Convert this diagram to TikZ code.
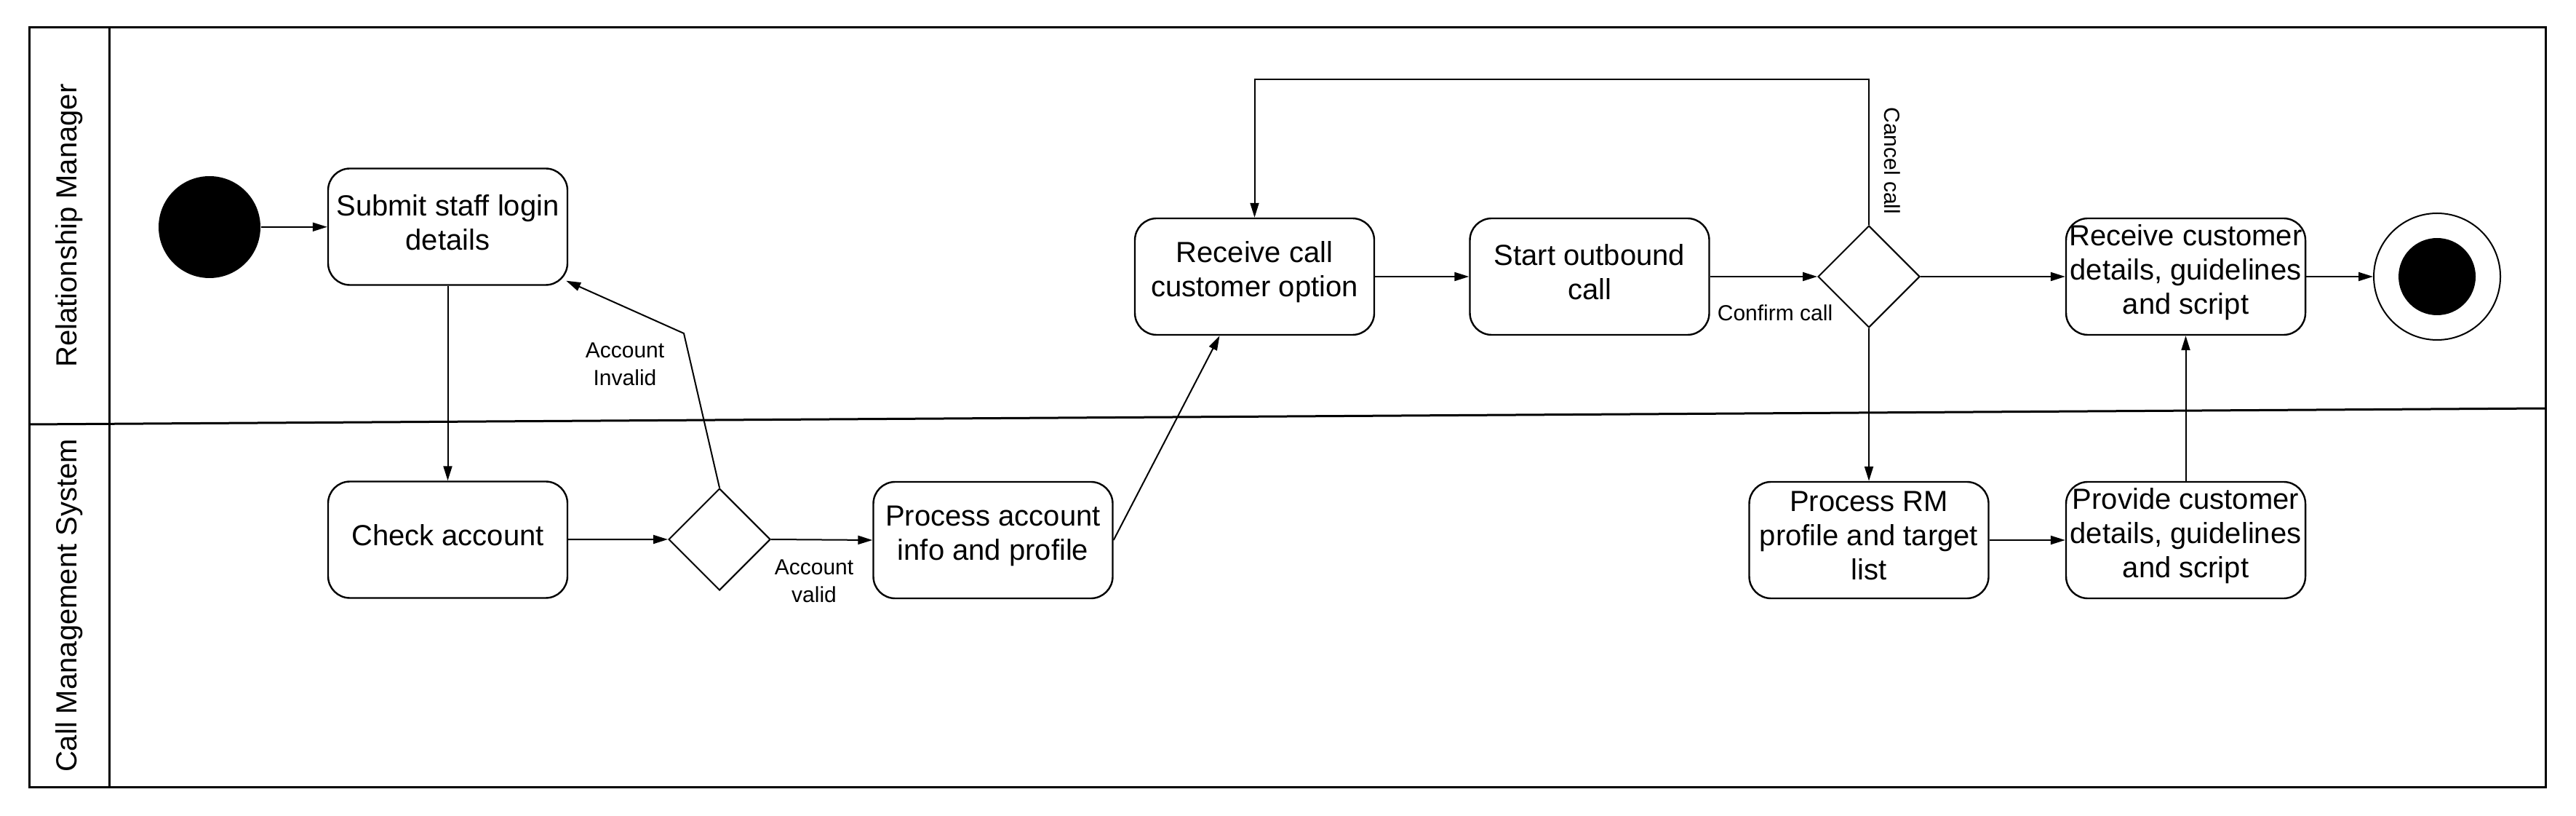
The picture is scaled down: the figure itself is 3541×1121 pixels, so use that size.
\documentclass[tikz,border=0pt]{standalone}
\usepackage{fontspec}
\setmainfont{Liberation Sans}
\usetikzlibrary{shapes.geometric,arrows.meta,calc}
\begin{document}
\begin{tikzpicture}[x=0.25pt,y=-0.25pt,
  act/.style={draw, rounded corners=7.5pt, minimum width=82.25pt, minimum height=40pt,
              line width=0.6pt, inner sep=0pt,
              label={[acttxt]center:{#1}}},
  acttxt/.style={align=center, font=\fontsize{10}{11.75}\selectfont, inner sep=0pt, yshift=1.5pt},
  dec/.style={draw, diamond, minimum width=35pt, minimum height=35pt, inner sep=0pt, line width=0.5pt},
  arr/.style={-{Triangle[length=5pt,width=3pt]}, line width=0.5pt},
  lbl/.style={font=\fontsize{7.5}{9.5}\selectfont, align=center, inner sep=1pt},
  lanel/.style={line width=0.75pt},
  lanetxt/.style={rotate=90, font=\fontsize{10}{12}\selectfont}]
\useasboundingbox (0,0) rectangle (3541,1121);
% swimlanes
\draw[lanel] (40,38) rectangle (3499,1081);
\draw[lanel] (150,38) -- (150,1081);
\draw[lanel] (40,583) -- (3499,561);
\node[lanetxt] (rmlab) at (95,310) {Relationship Manager};
\node[lanetxt] (cmslab) at (95,832) {Call Management System};
% nodes
\node[circle, fill=black, minimum size=35pt, inner sep=0pt] (start) at (288,312) {};
\node[act={Submit staff login\\details}] (submit) at (615.5,311.5) {};
\node[act={Check account}] (check) at (615.5,741.5) {};
\node[dec] (d1) at (989,741) {};
\node[act={Process account\\info and profile}] (procacc) at (1365,742) {};
\node[act={Receive call\\customer option}] (recv) at (1724.5,380) {};
\node[act={Start outbound\\call}] (outb) at (2185,380) {};
\node[dec] (d2) at (2569,380) {};
\node[act={Receive customer\\details, guidelines\\and script}] (recvcust) at (3004.5,380) {};
\node[act={Process RM\\profile and target\\list}] (procrm) at (2569,742) {};
\node[act={Provide customer\\details, guidelines\\and script}] (provide) at (3004.5,742) {};
\node[circle, draw, line width=0.5pt, minimum size=43.5pt, inner sep=0pt] (endo) at (3350,380) {};
\node[circle, fill=black, minimum size=26.5pt, inner sep=0pt] (endi) at (3350,380) {};
% connectors
\draw[arr] (start) -- (submit);
\draw[arr] (submit) -- (check);
\draw[arr] (check) -- (d1.west);
\coordinate (bend1) at (940,458);
\draw[arr] (d1.north) -- (bend1) -- ([shift={(-0.75pt,1.75pt)}]submit.south east);
\node[lbl] (linv) at (859,500) {Account\\Invalid};
\draw[arr] (d1.east) -- (procacc.west);
\node[lbl] (lval) at (1119,798) {Account\\valid};
\draw[arr] (procacc.east) -- ([xshift=-12pt]recv.south);
\draw[arr] (recv) -- (outb);
\draw[arr] (outb.east) -- (d2.west);
\node[lbl] (lconf) at (2440,430) {Confirm call};
\coordinate (loop) at (2569,109);
\draw[arr] (d2.north) -- (loop) -| (recv.north);
\node[lbl, rotate=-90] (lcanc) at (2601,221) {Cancel call};
\draw[arr] (d2.east) -- (recvcust.west);
\draw[arr] (d2.south) -- (procrm.north);
\draw[arr] (procrm) -- (provide);
\draw[arr] (provide) -- (recvcust);
\draw[arr] (recvcust) -- (endo);
\end{tikzpicture}
\end{document}
